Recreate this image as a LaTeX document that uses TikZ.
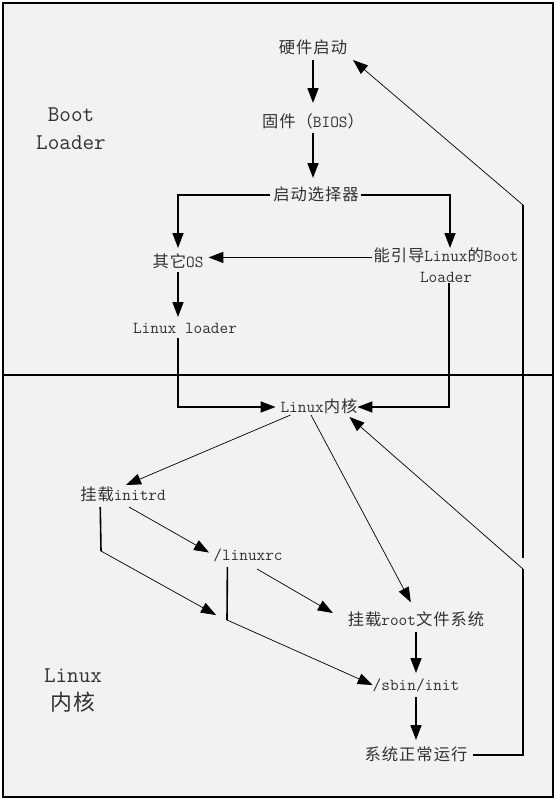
\documentclass[tikz,border=0pt]{standalone}
\usepackage{fontspec}
\setmainfont{Liberation Mono}
\newfontfamily\cjk[Scale=0.97,LetterSpace=6]{Noto Sans CJK SC}
\usetikzlibrary{arrows.meta}
\definecolor{bgc}{RGB}{242,242,242}
\definecolor{txt}{RGB}{50,50,50}
\begin{document}
\begin{tikzpicture}[x=1pt,y=-1pt,
  lab/.style={inner sep=0pt, outer sep=0pt, text=txt, font=\ttfamily\fontsize{16.8pt}{17pt}\selectfont, text height=13pt, text depth=3pt},
  biglab/.style={inner sep=0pt, outer sep=0pt, text=txt, font=\ttfamily\fontsize{22.5pt}{28pt}\selectfont, align=center},
  arr/.style={-{Triangle[length=15pt,width=11pt]}},
  thk/.style={line width=1.6pt},
  thn/.style={line width=0.7pt},
]
\fill[white] (0,0) rectangle (556,800);
\draw[line width=1.8pt, fill=bgc] (3,3) rectangle (553,797);
\draw[line width=1.8pt] (3,375) -- (553,375);

\node[lab] (hw) at (313,48) {{\cjk 硬件启动}};
\node[lab] (bios) at (313,122) {{\cjk 固件（}BIOS{\cjk ）}};
\node[lab] (sel) at (316,195) {{\cjk 启动选择器}};
\node[lab] (other) at (178,262) {{\cjk 其它}OS};
\node[inner sep=0pt, outer sep=0pt, text=txt, font=\ttfamily\fontsize{16.8pt}{21pt}\selectfont, align=center, anchor=north] (lbl) at (446,248) {{\cjk 能引导}Linux{\cjk 的}Boot\\Loader};
\node[lab] (ll) at (185,328) {Linux loader};
\node[lab] (kern) at (319,407) {Linux{\cjk 内核}};
\node[lab] (initrd) at (123,495) {{\cjk 挂载}initrd};
\node[lab] (rc) at (248,555) {/linuxrc};
\node[lab] (root) at (416,620) {{\cjk 挂载}root{\cjk 文件系统}};
\node[lab] (init) at (416,685) {/sbin/init};
\node[lab] (run) at (416,755) {{\cjk 系统正常运行}};
\node[biglab] (bl) at (71,129) {Boot\\Loader};
\node[biglab] (lk) at (73,691) {Linux\\{\cjk 内核}};

\coordinate (fbA) at (523,569);
\coordinate (fbB) at (523,558);
\coordinate (fbC) at (523,205);
\coordinate (ia) at (101,551);
\coordinate (iend) at (216,615);
\coordinate (rb) at (227,620);
\coordinate (lblw) at ([yshift=8pt]lbl.west);

\draw[thk,arr,shorten <=4pt,shorten >=11pt] (hw.south) -- (bios.north);
\draw[thk,arr,shorten <=3pt,shorten >=9pt] (bios.south) -- (bios.south |- sel.north);
\draw[thk,arr,shorten <=3pt,shorten >=6pt] (sel.west) -| (other.north);
\draw[thk,arr,shorten <=2pt] (sel.east) -| ([xshift=4pt]lbl.north);
\draw[thk,arr,shorten <=2pt,shorten >=5pt] (lblw) -- (lblw -| other.east);
\draw[thk,arr,shorten <=2pt,shorten >=3pt] (other.south) -- (other.south |- ll.north);
\draw[thk,arr,shorten <=2pt,shorten >=5pt] (ll.south -| other.south) |- (kern.west);
\draw[thk,arr] ([xshift=3pt]lbl.south) |- (kern.east);
\draw[thk] ([xshift=6pt]run.east) -| (fbA);
\draw[thn,arr] (fbA) -- ([xshift=-8pt,yshift=-2pt]kern.south east);
\draw[thk] (fbB) -- (fbC);
\draw[thn,arr] (fbC) -- ([xshift=6pt,yshift=-4pt]hw.south east);
\draw[thn,arr] ([xshift=10pt]kern.south west) -- ([xshift=3pt,yshift=2pt]initrd.north);
\draw[thn,arr,shorten >=11pt] ([xshift=-8pt]kern.south) -- (root.north);
\draw[thn,arr,shorten >=5pt] ([xshift=6pt,yshift=-4pt]initrd.south) -- (rc.west);
\draw[thk] ([xshift=20pt,yshift=-4pt]initrd.south west) -- (ia);
\draw[thn,arr] (ia) -- (iend);
\draw[thk] ([xshift=14pt,yshift=-4pt]rc.south west) -- (rb);
\draw[thn,arr] (rb) -- (init.west);
\draw[thn,arr] ([xshift=9pt,yshift=-6pt]rc.south) -- ([xshift=-15pt,yshift=7pt]root.west);
\draw[thk,arr,shorten <=4pt,shorten >=4pt] (root.south) -- (init.north);
\draw[thk,arr,shorten <=4pt,shorten >=7pt] (init.south) -- (run.north);
\end{tikzpicture}
\end{document}
